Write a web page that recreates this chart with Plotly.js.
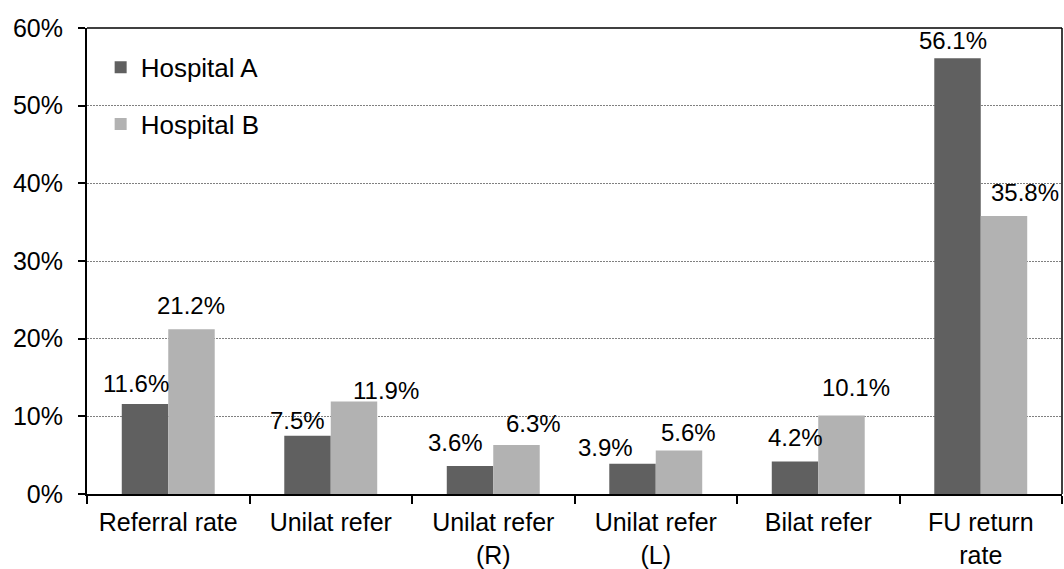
<!DOCTYPE html>
<html>
<head>
<meta charset="utf-8">
<script src="https://cdn.plot.ly/plotly-3.0.1.min.js"></script>
<style>
  html, body { margin: 0; padding: 0; background: #fff; }
  #chart { width: 1064px; height: 569px; }
</style>
</head>
<body>
<div id="chart"></div>
<script>
// Categories (x axis) and percentage values per hospital
const categories = [
  "Referral rate",
  "Unilat refer",
  "Unilat refer<br>(R)",
  "Unilat refer<br>(L)",
  "Bilat refer",
  "FU return<br>rate"
];
const hospitalA = [11.6, 7.5, 3.6, 3.9, 4.2, 56.1];
const hospitalB = [21.2, 11.9, 6.3, 5.6, 10.1, 35.8];
const seriesNames = ["Hospital A", "Hospital B"];
const yTickVals = [0, 10, 20, 30, 40, 50, 60];
const yTickText = ["0%", "10%", "20%", "30%", "40%", "50%", "60%"];

// Layout tweaks: pixel nudges for the value labels (dx, dy above bar top)
const labelNudgeA = [[-9, 20], [-10, 15], [-15, 24], [-27, 16], [0, 24], [-5, 18]];
const labelNudgeB = [[0, 24], [32, 11], [17, 22], [10, 18], [15, 28], [21, 23]];

const FONT = "Arial, 'Liberation Sans', sans-serif";
const COLOR_A = "#606060";
const COLOR_B = "#b2b2b2";

const W = 1064, H = 569;
const margin = { l: 87, r: 2, t: 28, b: 75 };
const plotW = W - margin.l - margin.r;
const bargap = 0.428;
// half of one bar's width, in pixels, so labels sit over their own bar
const barHalf = (plotW / categories.length) * (1 - bargap) / 4;

const traces = [
  {
    type: "bar", name: seriesNames[0], x: categories, y: hospitalA,
    marker: { color: COLOR_A }, legendgroup: "a", hoverinfo: "skip"
  },
  {
    type: "bar", name: seriesNames[1], x: categories, y: hospitalB,
    marker: { color: COLOR_B }, legendgroup: "b", hoverinfo: "skip"
  }
];

const annotations = [];
function addLabels(vals, nudges, side) {
  vals.forEach((v, i) => {
    annotations.push({
      x: categories[i], y: v, xref: "x", yref: "y",
      text: v.toFixed(1) + "%", showarrow: false,
      xanchor: "center", yanchor: "middle",
      xshift: side * barHalf + nudges[i][0], yshift: nudges[i][1],
      font: { family: FONT, size: 24, color: "#000" }
    });
  });
}
addLabels(hospitalA, labelNudgeA, -1);
addLabels(hospitalB, labelNudgeB, 1);

const layout = {
  width: W, height: H, margin: margin,
  paper_bgcolor: "#fff", plot_bgcolor: "#fff",
  font: { family: FONT, size: 26, color: "#000" },
  barmode: "group", bargap: bargap, bargroupgap: 0,
  showlegend: true,
  legend: {
    x: 0.014, y: 0.966, xanchor: "left", yanchor: "top",
    bgcolor: "rgba(0,0,0,0)", borderwidth: 0,
    font: { family: FONT, size: 26, color: "#000" },
    traceorder: "grouped", tracegroupgap: 20, itemwidth: 30
  },
  xaxis: {
    type: "category", tickson: "boundaries",
    ticks: "outside", ticklen: 8, tickwidth: 2, tickcolor: "#000",
    showline: true, linecolor: "#000", linewidth: 2,
    showgrid: false, zeroline: false, fixedrange: true,
    ticklabelstandoff: 5,
    tickfont: { family: FONT, size: 25, color: "#000" }
  },
  yaxis: {
    range: [0, 60], tickmode: "array", tickvals: yTickVals, ticktext: yTickText,
    ticks: "outside", ticklen: 7, tickwidth: 2, tickcolor: "#000",
    showline: true, linecolor: "#000", linewidth: 2,
    showgrid: true, gridcolor: "#808080", gridwidth: 1, griddash: "1.5px,1.5px",
    zeroline: false, fixedrange: true,
    ticklabelstandoff: 10,
    tickfont: { family: FONT, size: 25, color: "#000" }
  },
  shapes: [
    { type: "line", xref: "paper", yref: "paper", x0: 0, x1: 1, y0: 1, y1: 1,
      line: { color: "#000", width: 1.5 } },
    { type: "line", xref: "paper", yref: "paper", x0: 1, x1: 1, y0: 0, y1: 1,
      line: { color: "#000", width: 1.5 } }
  ],
  annotations: annotations
};

Plotly.newPlot("chart", traces, layout, { displayModeBar: false, staticPlot: true });
</script>
</body>
</html>
